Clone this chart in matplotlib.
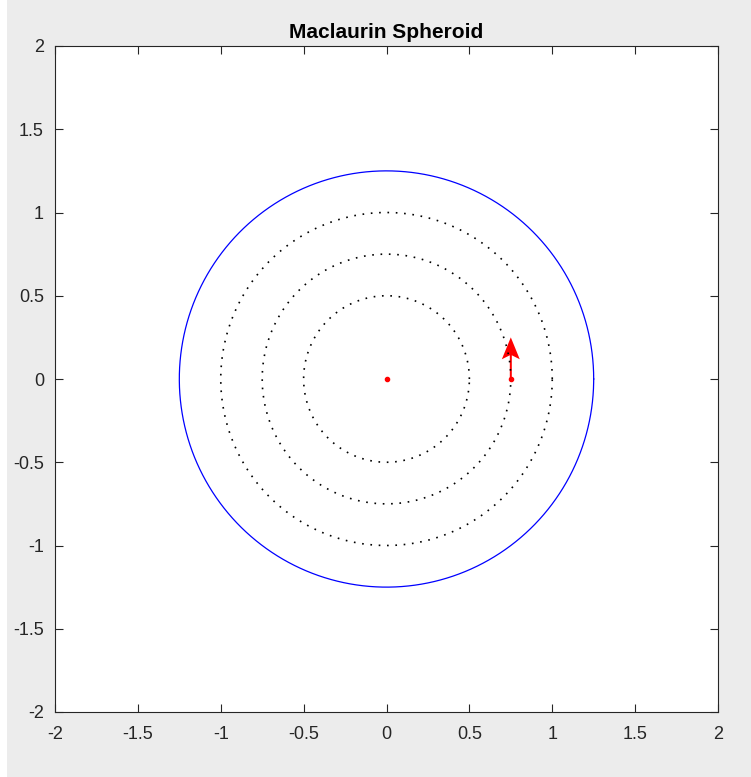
import numpy as np
import matplotlib
matplotlib.use("Agg")
import matplotlib.pyplot as plt
from matplotlib.patches import Rectangle

plt.rcParams['font.family'] = ['Liberation Sans', 'DejaVu Sans']

title = "Maclaurin Spheroid"
outer_radius = 1.25
inner_radii = [0.5, 0.75, 1.0]
center = [0.0, 0.0]
arrow_base = [0.75, 0.0]
arrow_vec = [0.0, 0.25]
ticks = [-2, -1.5, -1, -0.5, 0, 0.5, 1, 1.5, 2]
tick_labels = ["-2", "-1.5", "-1", "-0.5", "0", "0.5", "1", "1.5", "2"]

fig = plt.figure(figsize=(7.51, 7.77), dpi=100, facecolor="#ececec")
fig.patches.append(Rectangle((0, 0), 7 / 751, 1, transform=fig.transFigure,
                             facecolor="white", edgecolor="none", zorder=-1))
ax = fig.add_axes([55 / 751, 65 / 777, 663 / 751, 666 / 777])
ax.set_facecolor("white")

t = np.linspace(0, 2 * np.pi, 400)
ax.plot(outer_radius * np.cos(t), outer_radius * np.sin(t), color="blue", lw=0.9)
for r in inner_radii:
    ax.plot(r * np.cos(t), r * np.sin(t), color="black", lw=1.2,
            linestyle=(0, (1, 4)))

ax.plot(center[0], center[1], 'o', color="red", ms=3, mec="red")
ax.plot(arrow_base[0], arrow_base[1], 'o', color="red", ms=3, mec="red")
ax.quiver(arrow_base[0], arrow_base[1], arrow_vec[0], arrow_vec[1],
          angles='xy', scale_units='xy', scale=1, color="red",
          width=0.003, headwidth=9, headlength=11, headaxislength=9)

ax.set_xlim(-2, 2)
ax.set_ylim(-2, 2)
ax.set_xticks(ticks)
ax.set_xticklabels(tick_labels)
ax.set_yticks(ticks)
ax.set_yticklabels(tick_labels)
ax.tick_params(direction="in", length=6, width=0.8, top=True, right=True,
               labelsize=13, colors="#262626", pad=8)
ax.tick_params(axis="x", pad=10)
for s in ax.spines.values():
    s.set_color("#262626")
    s.set_linewidth(0.8)
ax.set_title(title, fontsize=15, fontweight="bold", pad=6)

fig.savefig("out.png", dpi=100, facecolor=fig.get_facecolor())
